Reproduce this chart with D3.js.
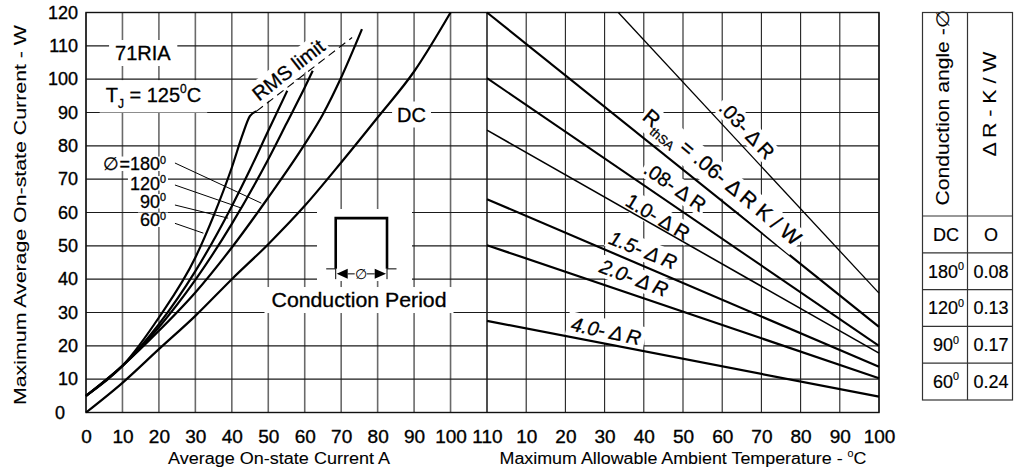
<!DOCTYPE html>
<html>
<head>
<meta charset="utf-8">
<script src="https://cdn.jsdelivr.net/npm/d3@7"></script>
<style>
  body { margin: 0; background: #fff; }
  svg { display: block; font-family: "Liberation Sans", Arial, sans-serif; }
</style>
</head>
<body>
<svg id="chart" width="1016" height="476"></svg>
<script>
// tick values
const powerTicks = [0, 10, 20, 30, 40, 50, 60, 70, 80, 90, 100, 110, 120];
const currentTicks = [0, 10, 20, 30, 40, 50, 60, 70, 80, 90, 100, 110];
const ambientTicks = [0, 10, 20, 30, 40, 50, 60, 70, 80, 90, 100];
const ambientLabels = [10, 20, 30, 40, 50, 60, 70, 80, 90, 100];

// left panel, [average current A, power W]
const curveDC = [[0, 0], [10, 8.9], [20, 19], [30, 29], [40, 40], [50, 50.5], [60, 62], [70, 75], [80, 88.5], [90, 102.3], [100, 120]];
const curve180 = [[0, 5], [10, 14], [20, 24.5], [30, 36], [40, 49.5], [50, 64.5], [60, 80.5], [65, 89.5], [70, 100.5], [75.7, 115]];
const curve120 = [[0, 5], [10, 14], [20, 25.6], [30, 39.8], [40, 56.6], [50, 76], [55, 86.7], [60, 97.5], [62.2, 102.5]];
const curve90 = [[0, 5], [10, 14], [20, 26.5], [30, 42.4], [40, 61.9], [45, 72.9], [50, 84.5], [55.2, 96.5]];
const curve60 = [[0, 5], [10, 14], [20, 28.5], [30, 46.5], [35, 59], [40, 73.5], [43, 83.5], [45, 89], [46.8, 90.4]];
const rmsLimit = [[46.8, 90.4], [73, 112.5]];
// where the angle labels point on their curves
const leaderEnds = [[48.1, 62.8], [42.7, 61.3], [39, 58.3], [32.2, 53.8]];

// right panel, [ambient temperature C, power W]
const sink003 = [[33.5, 120], [100, 35.8]];
const sink006 = [[0, 120], [100, 25.7]];
const sink008 = [[0, 100.3], [100, 20]];
const sink10 = [[0, 84.7], [100, 17.8]];
const sink15 = [[0, 64], [100, 13.7]];
const sink20 = [[0, 50.2], [100, 10.3]];
const sink40 = [[0, 27.5], [100, 4.75]];

// table
const tableAngles = ["DC", "180", "120", "90", "60"];
const tableDeltaR = ["O", "0.08", "0.13", "0.17", "0.24"];

const svg = d3.select("#chart");

const xL = d3.scaleLinear().domain([0, 110]).range([86, 487]);
const xR = d3.scaleLinear().domain([0, 100]).range([487, 879]);
const y = d3.scaleLinear().domain([0, 120]).range([412.5, 12.5]);

const gGrid = svg.append("g");
const gBox = svg.append("g");
const gLines = svg.append("g");
const gText = svg.append("g");

// grid
gGrid.selectAll(".vl").data(currentTicks).join("line")
  .attr("x1", d => xL(d)).attr("x2", d => xL(d))
  .attr("y1", y(120)).attr("y2", y(0))
  .attr("stroke", "#6a6a6a").attr("stroke-width", 1.6);
gGrid.selectAll(".vr").data(ambientTicks).join("line")
  .attr("x1", d => xR(d)).attr("x2", d => xR(d))
  .attr("y1", y(120)).attr("y2", y(0))
  .attr("stroke", "#222").attr("stroke-width", 1.1);
gGrid.selectAll(".h").data(powerTicks).join("line")
  .attr("x1", xL(0)).attr("x2", xR(100))
  .attr("y1", d => y(d)).attr("y2", d => y(d))
  .attr("stroke", "#1a1a1a").attr("stroke-width", 1.2);
gGrid.append("rect")
  .attr("x", xL(0)).attr("y", y(120))
  .attr("width", xR(100) - xL(0)).attr("height", y(0) - y(120))
  .attr("fill", "none").attr("stroke", "#111").attr("stroke-width", 1.4);

// axes
const font = '"Liberation Sans", Arial, sans-serif';
function styleAxis(g, size) {
  g.select(".domain").remove();
  g.selectAll("text").attr("font-size", size).attr("font-family", font)
    .attr("fill", "#000").attr("stroke", "#000").attr("stroke-width", 0.35);
}
svg.append("g").attr("transform", `translate(0,${y(0)})`)
  .call(d3.axisBottom(xL).tickValues(currentTicks).tickSize(0).tickPadding(17))
  .call(g => styleAxis(g, 19));
svg.append("g").attr("transform", `translate(0,${y(0)})`)
  .call(d3.axisBottom(xR).tickValues(ambientLabels).tickSize(0).tickPadding(17))
  .call(g => styleAxis(g, 19));
svg.append("g").attr("transform", `translate(${xL(0)},0)`)
  .call(d3.axisLeft(y).tickValues(powerTicks).tickSize(0).tickPadding(8))
  .call(g => styleAxis(g, 18))
  .call(g => g.selectAll(".tick text").filter(d => d === 0).attr("text-anchor", "start").attr("x", -31));

// text with sub/superscripts and an optional white knock-out box
function label(x, yy, angle, parts, size, opts = {}) {
  const tf = `translate(${x},${yy}) rotate(${angle})`;
  const gb = (opts.cover ? gText : gBox).append("g").attr("transform", tf);
  const g = gText.append("g").attr("transform", tf);
  const t = g.append("text")
    .attr("text-anchor", opts.anchor || "middle")
    .attr("y", size * 0.35)
    .attr("font-size", size)
    .attr("font-style", opts.italic ? "italic" : null)
    .attr("fill", "#000")
    .attr("stroke", "#000").attr("stroke-width", opts.heavy ?? 0.3);
  if (opts.len) t.attr("textLength", opts.len).attr("lengthAdjust", "spacingAndGlyphs");
  let shift = 0;
  const supUp = opts.supUp ?? 0.42;
  parts.forEach(p => {
    const [str, kind] = typeof p === "string" ? [p, ""] : p;
    const target = kind === "sup" ? -size * supUp : kind === "sub" ? size * 0.3 : 0;
    t.append("tspan").attr("dy", target - shift)
      .attr("font-size", kind ? size * 0.6 : size).text(str);
    shift = target;
  });
  if (opts.box !== false) {
    const b = t.node().getBBox();
    const px = opts.px ?? 3, py = opts.py ?? 1;
    gb.append("rect").attr("x", b.x - px).attr("y", b.y - py)
      .attr("width", b.width + 2 * px).attr("height", b.height + 2 * py)
      .attr("fill", "#fff");
  }
  if (opts.cover) gb.raise(), g.raise();
  return g;
}

// curves
const lineL = d3.line().x(d => xL(d[0])).y(d => y(d[1])).curve(d3.curveMonotoneX);
const lineR = d3.line().x(d => xR(d[0])).y(d => y(d[1]));

[curveDC, curve180, curve120, curve90, curve60].forEach(c => {
  gLines.append("path").attr("d", lineL(c))
    .attr("fill", "none").attr("stroke", "#000").attr("stroke-width", 2.2);
});
gLines.append("path").attr("d", lineL(rmsLimit))
  .attr("fill", "none").attr("stroke", "#000").attr("stroke-width", 1.1)
  .attr("stroke-dasharray", "8,5");

[[sink003, 1.3], [sink006, 2.2], [sink008, 2], [sink10, 1.6], [sink15, 2.2], [sink20, 2.2], [sink40, 2.2]]
  .forEach(([c, w]) => {
    gLines.append("path").attr("d", lineR(c))
      .attr("fill", "none").attr("stroke", "#000").attr("stroke-width", w);
  });

// leader lines for the angle labels
const leaderStarts = [74.85, 68.25, 62.25, 56.75];
leaderEnds.forEach((e, i) => {
  gLines.append("line")
    .attr("x1", xL(24.4)).attr("y1", y(leaderStarts[i]))
    .attr("x2", xL(e[0])).attr("y2", y(e[1]))
    .attr("stroke", "#000").attr("stroke-width", 1);
});

// left panel labels
label(xL(15.6), y(107.85), 0, ["71RIA"], 20, { px: 6, py: 2 });
label(xL(18.5), y(95.4), 0, ["T", ["J", "sub"], " = 125", ["0", "sup"], "C"], 20, { px: 6, py: 2 });
label(xL(89.3), y(89.4), 0, ["DC"], 20, { px: 5, py: 2 });
label(xL(55.5), y(102.75), -38, ["RMS limit"], 20, { px: 3, py: 1 });
const phiBase = [170, 189.5, 207.5, 226];
[["\u2205=180"], ["120"], ["90"], ["60"]].forEach((p, i) => {
  label(166, phiBase[i] - 18 * 0.35, 0, [p[0], ["0", "sup"]], 18, { anchor: "end", px: 2, py: -3, supUp: 0.36 });
});

// inset: conduction period sketch
gBox.append("rect").attr("x", 317).attr("y", 209).attr("width", 95).attr("height", 72).attr("fill", "#fff");
label(359, 300.2, 0, ["Conduction Period"], 19.5, { len: 175, px: 7, py: 2 });
const inset = gText.append("g").attr("transform", `translate(${xL(68.5)},${y(58.3)})`);
inset.append("path").attr("d", "M0,50.7V0H51.3V50.7")
  .attr("fill", "none").attr("stroke", "#000").attr("stroke-width", 2.6);
inset.append("path").attr("d", "M-9.5,50.7H0M51.3,50.7H60.8M0,50.7V61M51.3,50.7V61M12,55.7H19M31,55.7H39")
  .attr("fill", "none").attr("stroke", "#000").attr("stroke-width", 1);
inset.append("path").attr("d", "M1,55.7L12,50.7V60.7Z M50.3,55.7L39,50.7V60.7Z").attr("fill", "#000");
inset.append("text").attr("x", 25.3).attr("y", 55.7).attr("dy", "0.35em")
  .attr("text-anchor", "middle").attr("font-size", 14).text("\u2205");

// right panel labels
label(xR(66.3), y(84.75), 47, [".03- \u0394\u2009R"], 20, { px: 3, py: 0 });
label(xR(60), y(70.65), 40, ["R", ["thSA", "sub"], " = .06- \u0394\u2009R K / W"], 21, { px: 2, py: 0, cover: true });
label(xR(48), y(67.7), 35, [".08- \u0394\u2009R"], 20, { px: 2, py: 0 });
label(xR(43.6), y(58.65), 31, ["1.0- \u0394\u2009R"], 20, { px: 2, py: 0 });
label(xR(39.8), y(48.75), 22, ["1.5- \u0394\u2009R"], 20, { px: 2, py: 0, italic: true });
label(xR(37.5), y(40.35), 21, ["2.0- \u0394\u2009R"], 20, { px: 2, py: 0, italic: true });
label(xR(30.4), y(24.45), 12, ["4.0- \u0394\u2009R"], 20, { px: 4, py: 1, italic: true });

// axis titles
label(20, 215, -90, ["Maximum Average On-state Current - W"], 17, { len: 380, box: false, heavy: 0.1 });
label(279, 458.5, 0, ["Average On-state Current A"], 16, { len: 222, box: false, heavy: 0.1 });
label(683, 458.5, 0, ["Maximum Allowable Ambient Temperature - ", ["0", "sup"], "C"], 16, { len: 367, box: false, heavy: 0.1 });

// table
const tx = [922.5, 967.5, 1012.5];
const rowY = d3.scaleBand().domain(tableAngles).range([216, 400]);
const gTab = svg.append("g");
gTab.append("rect").attr("x", tx[0]).attr("y", 12.5)
  .attr("width", tx[2] - tx[0]).attr("height", 400 - 12.5)
  .attr("fill", "none").attr("stroke", "#333").attr("stroke-width", 1.2);
gTab.append("line").attr("x1", tx[1]).attr("x2", tx[1]).attr("y1", 12.5).attr("y2", 400)
  .attr("stroke", "#333").attr("stroke-width", 1.2);
gTab.selectAll(".rl").data(tableAngles).join("line")
  .attr("x1", tx[0]).attr("x2", tx[2])
  .attr("y1", d => rowY(d)).attr("y2", d => rowY(d))
  .attr("stroke", "#333").attr("stroke-width", 1.2);
tableAngles.forEach((a, i) => {
  const cy = rowY(a) + rowY.bandwidth() / 2;
  const parts = a === "DC" ? ["DC"] : [a, ["0", "sup"]];
  label((tx[0] + tx[1]) / 2 + 1, cy, 0, parts, 18, { box: false, heavy: 0.2 });
  label((tx[1] + tx[2]) / 2 + 1, cy, 0, [tableDeltaR[i]], 18, { box: false, heavy: 0.2 });
});
label(942.5, 107.5, -90, ["Conduction angle -\u2205"], 18, { len: 196, box: false, heavy: 0.1 });
label(990, 104, -90, ["\u0394\u2009R - K / W"], 18, { len: 105, box: false, heavy: 0.1 });
</script>
</body>
</html>
